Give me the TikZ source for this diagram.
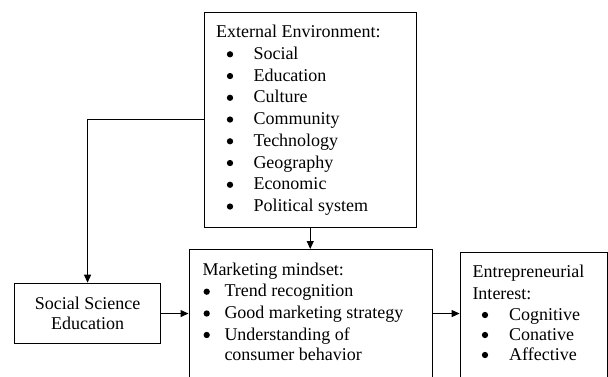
\documentclass[tikz,border=0pt]{standalone}
\usepackage{fontspec}
\setmainfont{Liberation Serif}
\usetikzlibrary{arrows.meta}

\tikzset{
  box/.style={draw, line width=1pt, rectangle, anchor=north west, inner sep=0pt},
  txt/.style={anchor=base west, inner sep=0pt, font=\fontsize{18}{20}\selectfont},
  dot/.style={circle, fill, inner sep=0pt, minimum size=6.3pt},
  link/.style={line width=1pt, -{Triangle[length=8pt,width=7pt]}}
}

\begin{document}
\begin{tikzpicture}[x=1pt,y=-1pt]
  \useasboundingbox (0,0) rectangle (608,377);
  \clip (0,0) rectangle (608,377);

  % boxes (the two lower right ones run off the bottom edge)
  \node [box, minimum width=211.5pt, minimum height=215pt] (ext) at (204,11.7) {};
  \node [box, minimum width=145.5pt, minimum height=60.7pt] (sse) at (14.3,282.7) {};
  \node [box, minimum width=243pt, minimum height=200pt] (mkt) at (188.5,249) {};
  \node [box, minimum width=147pt, minimum height=200pt] (ent) at (459.6,251.5) {};

  % external environment
  \node [txt] (exthead) at (216,37.3) {External Environment:};
  \foreach \factor [count=\i from 0] in {Social, Education, Culture, Community,
      Technology, Geography, Economic, Political system}{
    \node [dot] (extb\i) at (230,{54.3+21.75*\i}) {};
    \node [txt] (extt\i) at (253.3,{59.3+21.75*\i}) {\factor};
  }

  % social science education
  \node [font=\fontsize{18}{20}\selectfont, align=center, inner sep=0pt]
    (ssetext) at (sse.center) {Social Science\\Education};

  % marketing mindset
  \node [txt] (mkthead) at (202.3,275) {Marketing mindset:};
  \foreach \skill/\y [count=\i] in {Trend recognition/296.7,
      Good marketing strategy/318.5, Understanding of/340}{
    \node [dot] (mktb\i) at (206.7,\y-5) {};
    \node [txt] (mktt\i) at (224.3,\y) {\skill};
  }
  \node [txt] (mktt4) at (224.3,360) {consumer behavior};

  % entrepreneurial interest
  \node [txt] (enthead) at (472.3,277.7) {Entrepreneurial};
  \node [txt] (enthead2) at (472.3,299.5) {Interest:};
  \foreach \aspect/\y [count=\i] in {Cognitive/320, Conative/340, Affective/360}{
    \node [dot] (entb\i) at (485,\y-5) {};
    \node [txt] (entt\i) at (509,\y) {\aspect};
  }

  % connectors
  \draw [link] (ext.west) -| (sse.north);
  \draw [link] (ext.south) -- (ext.south |- mkt.north);
  \draw [link] (sse.east) -- (sse.east -| mkt.west);
  \draw [link] (mkt.east |- sse.east) -- (sse.east -| ent.west);
\end{tikzpicture}
\end{document}
